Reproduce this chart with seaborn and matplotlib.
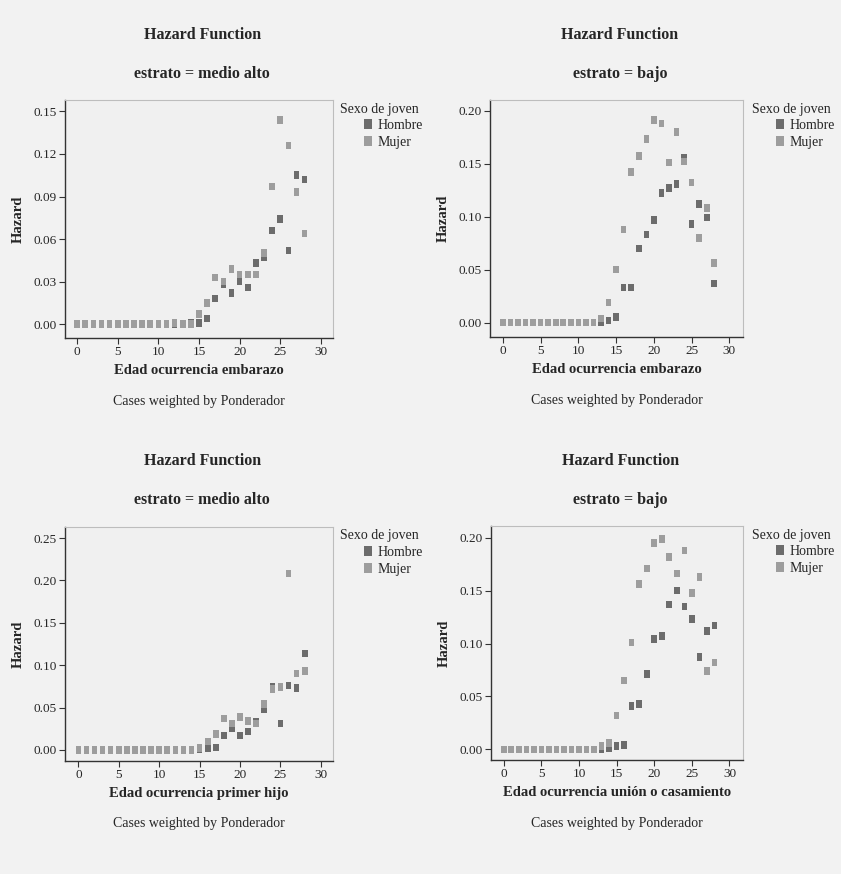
import numpy as np
import pandas as pd
import seaborn as sns
import matplotlib.pyplot as plt
from matplotlib.lines import Line2D

# edades 0..28 para los cuatro paneles
edad = list(range(29))

# estrato medio alto - embarazo
h_ma_emb = [0]*14 + [0.001, 0.001, 0.004, 0.018, 0.028, 0.022, 0.030, 0.026, 0.043, 0.047, 0.066, 0.074, 0.052, 0.105, 0.102]
m_ma_emb = [0]*12 + [0.001, 0.0, 0.0, 0.007, 0.015, 0.033, 0.030, 0.039, 0.035, 0.035, 0.035, 0.050, 0.097, 0.144, 0.126, 0.093, 0.064]

# estrato bajo - embarazo
h_b_emb = [0]*14 + [0.002, 0.005, 0.033, 0.033, 0.070, 0.083, 0.097, 0.122, 0.127, 0.131, 0.155, 0.093, 0.112, 0.099, 0.037]
m_b_emb = [0]*13 + [0.004, 0.019, 0.050, 0.088, 0.142, 0.157, 0.173, 0.191, 0.188, 0.151, 0.180, 0.152, 0.132, 0.080, 0.108, 0.056]

# estrato medio alto - primer hijo
h_ma_hijo = [0]*15 + [0.001, 0.002, 0.003, 0.017, 0.026, 0.017, 0.022, 0.033, 0.048, 0.075, 0.031, 0.076, 0.073, 0.114]
m_ma_hijo = [0]*15 + [0.002, 0.010, 0.019, 0.037, 0.031, 0.039, 0.034, 0.031, 0.054, 0.072, 0.074, 0.208, 0.090, 0.093]

# estrato bajo - union o casamiento
h_b_union = [0]*14 + [0.001, 0.003, 0.004, 0.041, 0.043, 0.071, 0.104, 0.107, 0.137, 0.150, 0.135, 0.123, 0.087, 0.112, 0.117]
m_b_union = [0]*13 + [0.003, 0.006, 0.032, 0.065, 0.101, 0.156, 0.171, 0.195, 0.199, 0.182, 0.166, 0.188, 0.148, 0.163, 0.074, 0.082]

sexos = ['Hombre', 'Mujer']
colores = {'Hombre': '#6c6c6c', 'Mujer': '#9d9d9d'}

paneles = [
    ('medio alto', 'Edad ocurrencia embarazo', h_ma_emb, m_ma_emb, [0.0, 0.03, 0.06, 0.09, 0.12, 0.15], (-1.5, 31.5), (-0.0097, 0.158)),
    ('bajo', 'Edad ocurrencia embarazo', h_b_emb, m_b_emb, [0.0, 0.05, 0.10, 0.15, 0.20], (-1.7, 31.8), (-0.0136, 0.210)),
    ('medio alto', 'Edad ocurrencia primer hijo', h_ma_hijo, m_ma_hijo, [0.0, 0.05, 0.10, 0.15, 0.20, 0.25], (-1.65, 31.5), (-0.013, 0.263)),
    ('bajo', 'Edad ocurrencia unión o casamiento', h_b_union, m_b_union, [0.0, 0.05, 0.10, 0.15, 0.20], (-1.7, 31.8), (-0.010, 0.211)),
]

sns.set_style('white')
plt.rcParams['font.family'] = ['Liberation Serif', 'DejaVu Serif']

W, H = 841, 874
fig = plt.figure(figsize=(W/100, H/100), dpi=100, facecolor='#f2f2f2')

# posiciones en pixeles: izquierda, arriba, ancho, alto
cajas = [(65, 100, 268, 238), (490, 100, 253, 237), (65, 527, 268, 234), (491, 526, 252, 234)]
titulo_y = [35, 35, 461, 461]
leyenda_x = [340, 752, 340, 752]

rect = [(-0.37, -0.5), (0.37, -0.5), (0.37, 0.5), (-0.37, 0.5), (-0.37, -0.5)]

for i, (estrato, xlab, hom, muj, yt, xl, yl) in enumerate(paneles):
    l, t, w, h = cajas[i]
    ax = fig.add_axes([l/W, 1 - (t+h)/H, w/W, h/H])
    ax.set_facecolor('#f0f0f0')

    df = pd.DataFrame({
        'edad': edad + edad,
        'hazard': hom + muj,
        'sexo': ['Hombre']*len(edad) + ['Mujer']*len(edad),
    })
    sns.scatterplot(data=df, x='edad', y='hazard', hue='sexo', hue_order=sexos,
                    palette=colores, marker=rect, s=30, linewidth=0, legend=False, ax=ax)

    ax.set_xlim(*xl)
    ax.set_ylim(*yl)
    ax.set_xticks([0, 5, 10, 15, 20, 25, 30])
    ax.set_yticks(yt)
    ax.set_yticklabels([f'{v:.2f}' for v in yt])
    ax.tick_params(axis='both', labelsize=9.5, length=4, width=0.8, color='#333333',
                   direction='out', bottom=True, left=True, pad=2)
    for s in ['left', 'bottom']:
        ax.spines[s].set_color('#333333')
        ax.spines[s].set_linewidth(1.0)
    for s in ['top', 'right']:
        ax.spines[s].set_color('#bdbdbd')
        ax.spines[s].set_linewidth(0.8)

    ax.set_xlabel(xlab, fontsize=10.5, fontweight='bold', labelpad=4)
    ax.set_ylabel('Hazard', fontsize=10.5, fontweight='bold', labelpad=6)

    cx = (l + w/2) / W
    fig.text(cx + 0.004, 1 - titulo_y[i]/H, 'Hazard Function', ha='center', va='center',
             fontsize=11.5, fontweight='bold')
    fig.text(cx + 0.004, 1 - (titulo_y[i]+39)/H, f'estrato = {estrato}', ha='center', va='center',
             fontsize=11.5, fontweight='bold')
    fig.text(cx, 1 - (t + h + 63)/H, 'Cases weighted by Ponderador', ha='center', va='center',
             fontsize=10)

    # leyenda
    lx = leyenda_x[i]
    fig.text(lx/W, 1 - (t + 9)/H, 'Sexo de joven', ha='left', va='center', fontsize=10)
    handles = [Line2D([], [], linestyle='', marker=rect, markersize=7, markeredgewidth=0,
                      color=colores[s]) for s in sexos]
    fig.legend(handles, sexos, loc='upper left', bbox_to_anchor=((lx + 24)/W, 1 - (t + 19)/H),
               frameon=False, fontsize=10, handlelength=0.6, handletextpad=0.4,
               labelspacing=0.3, borderpad=0, borderaxespad=0)

fig.savefig('out.png', dpi=100, facecolor=fig.get_facecolor())
